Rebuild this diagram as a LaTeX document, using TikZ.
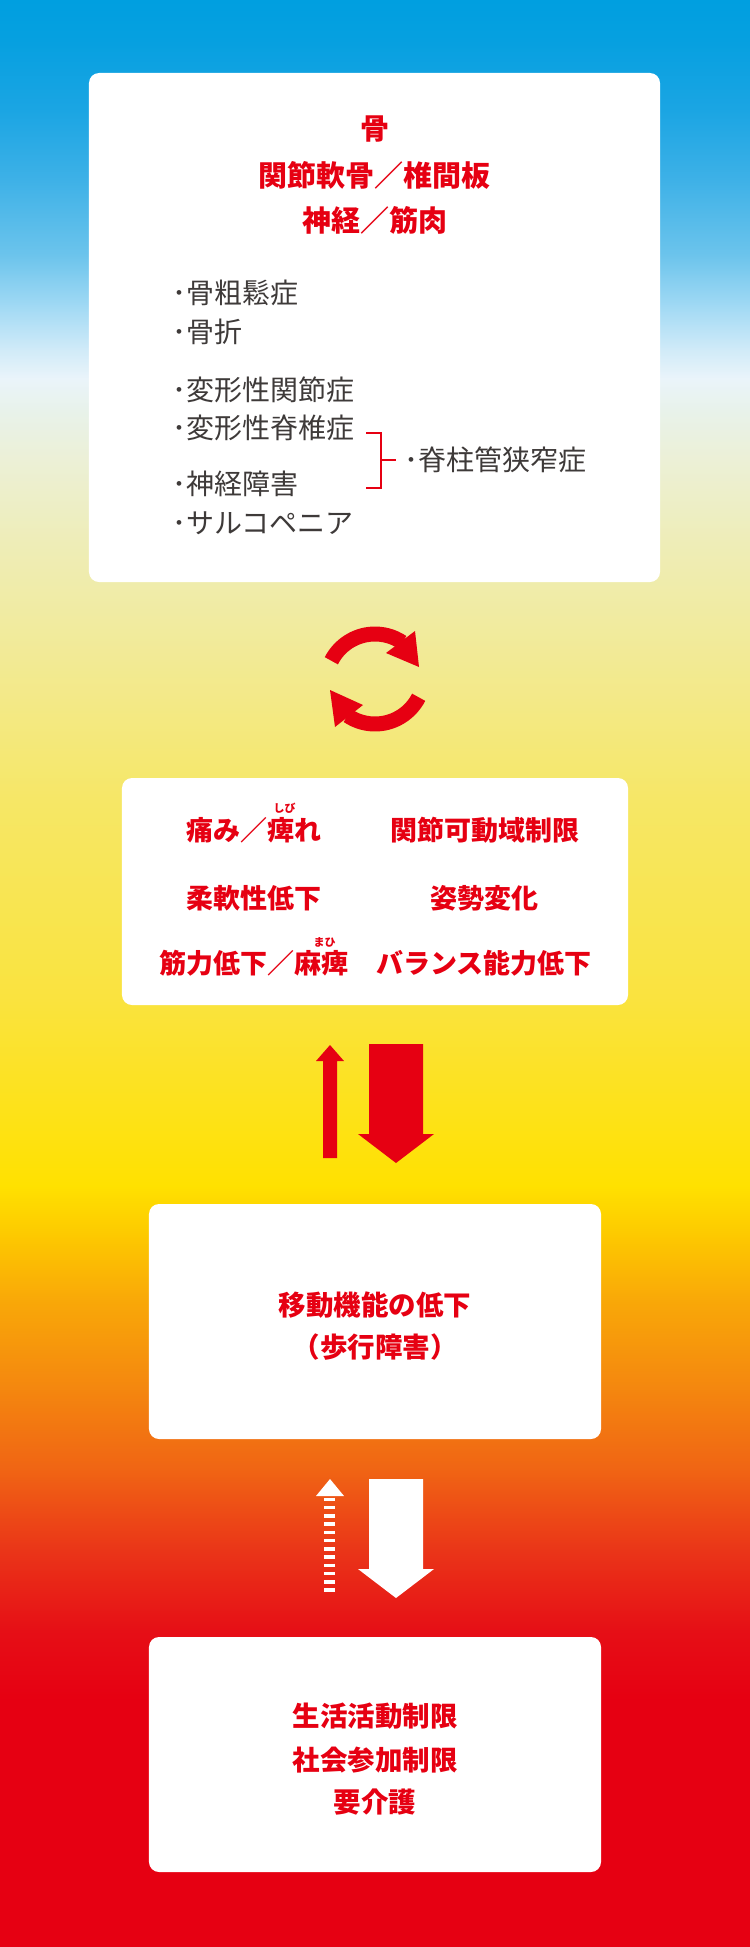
\documentclass[tikz,border=0pt]{standalone}
\usepackage{fontspec}
\newfontfamily\jp{Noto Sans CJK JP}
\definecolor{jred}{HTML}{E60012}
\definecolor{jgray}{HTML}{3E3A39}
\definecolor{g0}{HTML}{009FE0}
\definecolor{g1}{HTML}{06A0E0}
\definecolor{g2}{HTML}{1BA5E3}
\definecolor{g3}{HTML}{3EB1E7}
\definecolor{g4}{HTML}{6CC4EC}
\definecolor{g5}{HTML}{A0D9F4}
\definecolor{g6}{HTML}{CFEAF8}
\definecolor{g7}{HTML}{EAF4FA}
\definecolor{g8}{HTML}{E8F2EA}
\definecolor{g9}{HTML}{ECF0D6}
\definecolor{g10}{HTML}{EEEDB8}
\definecolor{g11}{HTML}{F2EA94}
\definecolor{g12}{HTML}{F6E766}
\definecolor{g13}{HTML}{FAE33E}
\definecolor{g14}{HTML}{FFE100}
\definecolor{g15}{HTML}{FDC900}
\definecolor{g16}{HTML}{F9A808}
\definecolor{g17}{HTML}{F4860F}
\definecolor{g18}{HTML}{F06414}
\definecolor{g19}{HTML}{EA3518}
\definecolor{g20}{HTML}{E60F16}
\definecolor{g21}{HTML}{E60012}
\begin{document}
\begin{tikzpicture}[x=1bp,y=-1bp,
  box/.style={fill=white, rounded corners=10bp, inner sep=0pt},
  headtxt/.style={text=jred, inner sep=0pt, font=\jp\bfseries\fontsize{29bp}{34bp}\selectfont},
  redtxt/.style={text=jred, inner sep=0pt, font=\jp\bfseries\fontsize{27bp}{32bp}\selectfont},
  lowtxt/.style={text=jred, inner sep=0pt, font=\jp\bfseries\fontsize{27.5bp}{32bp}\selectfont},
  rubytxt/.style={text=jred, inner sep=0pt, font=\jp\bfseries\fontsize{11bp}{12bp}\selectfont},
  graytxt/.style={text=jgray, inner sep=0pt, anchor=west, font=\jp\fontsize{28bp}{32bp}\selectfont},
  bracket/.style={draw=jred, line width=2bp},
  cyc/.style={draw=jred, line width=15bp, line cap=butt},
  redarrow/.style={fill=jred},
  whitearrow/.style={fill=white}]
\useasboundingbox (0,0) rectangle (750,1947);
% background gradient
\foreach \ya/\yb/\ca/\cb in {0/40/g0/g1, 40/110/g1/g2, 110/180/g2/g3, 180/255/g3/g4,
  255/305/g4/g5, 305/348/g5/g6, 348/378/g6/g7, 378/410/g7/g8, 410/460/g8/g9,
  460/540/g9/g10, 540/660/g10/g11, 660/800/g11/g12, 800/1000/g12/g13,
  1000/1185/g13/g14, 1185/1235/g14/g15, 1235/1300/g15/g16, 1300/1390/g16/g17,
  1390/1470/g17/g18, 1470/1550/g18/g19, 1550/1630/g19/g20, 1630/1700/g20/g21,
  1700/1947/g21/g21}
  \shade[top color=\ca, bottom color=\cb] (0,\ya) rectangle (750,\yb+0.7);

% boxes
\node[box, minimum width=571bp, minimum height=509bp] (b1) at (374.5,327.5) {};
\node[box, minimum width=506bp, minimum height=227bp] (b2) at (375,891.5) {};
\node[box, minimum width=452bp, minimum height=235bp] (b3) at (375,1321.5) {};
\node[box, minimum width=452bp, minimum height=235bp] (b4) at (375,1754.5) {};

% box 1
\node[headtxt] (h1) at (375,129.3) {骨};
\node[headtxt] (h2) at (374.5,175) {関節軟骨／椎間板};
\node[headtxt] (h3) at (375,220.5) {神経／筋肉};
\node[graytxt] (l1) at (172,293) {･骨粗鬆症};
\node[graytxt] (l2) at (172,332) {･骨折};
\node[graytxt] (l3) at (172,389.4) {･変形性関節症};
\node[graytxt] (l4) at (172,428.2) {･変形性脊椎症};
\node[graytxt] (l5) at (172,484) {･神経障害};
\node[graytxt] (l6) at (172,522.8) {･サルコペニア};
\node[graytxt] (l7) at (404,460.3) {･脊柱管狭窄症};
\coordinate (bt) at (366,432.6);
\coordinate (bb) at (366,488.4);
\coordinate (bm) at (381,460.3);
\coordinate (bme) at (396,460.3);
\draw[bracket] (bt) -| (bb -| bm) -- (bb);
\draw[bracket] (bm) -- (bme);

% cycle icon
\coordinate (ct) at (375,683);
\coordinate (cb) at (375,675);
\draw[cyc] (ct) ++(207:49) arc[start angle=207, end angle=304, radius=49];
\fill[jred] (386,653) -- (415,631) -- (419,667) -- cycle;
\draw[cyc] (cb) ++(27:49) arc[start angle=27, end angle=124, radius=49];
\fill[jred] (363,705) -- (335,727) -- (330,690) -- cycle;

% box 2
\node[redtxt] (r1) at (253.5,830.5) {痛み／痺れ};
\node[rubytxt] (k1) at (284.5,808) {しび};
\node[redtxt] (r2) at (485,830.5) {関節可動域制限};
\node[redtxt] (r3) at (254,898) {柔軟性低下};
\node[redtxt] (r4) at (484,898) {姿勢変化};
\node[redtxt] (r5) at (254,963) {筋力低下／麻痺};
\node[rubytxt] (k2) at (324.5,942.5) {まひ};
\node[redtxt] (r6) at (484,963) {バランス能力低下};

% arrows between box 2 and box 3
\fill[redarrow] (323,1158) -- (323,1061) -- (316,1061) -- (330,1045) -- (344,1061) -- (337,1061) -- (337,1158) -- cycle;
\fill[redarrow] (369,1044) -- (423,1044) -- (423,1134) -- (434,1134) -- (396,1163) -- (358,1134) -- (369,1134) -- cycle;

% box 3
\node[lowtxt] (m1) at (375,1305) {移動機能の低下};
\node[lowtxt] (m2) at (375,1347) {（歩行障害）};

% arrows between box 3 and box 4
\fill[whitearrow] (316,1496) -- (330,1479) -- (344,1496) -- cycle;
\coordinate (ds) at (329.6,1497.6);
\coordinate (de) at (329.6,1591.8);
\draw[white, line width=11bp, dash pattern=on 3.4bp off 4.85bp] (ds) -- (de);
\fill[whitearrow] (369,1479) -- (423,1479) -- (423,1569) -- (434,1569) -- (396,1598) -- (358,1569) -- (369,1569) -- cycle;

% box 4
\node[lowtxt] (s1) at (375,1716) {生活活動制限};
\node[lowtxt] (s2) at (375,1760) {社会参加制限};
\node[lowtxt] (s3) at (375,1801.7) {要介護};
\end{tikzpicture}
\end{document}
